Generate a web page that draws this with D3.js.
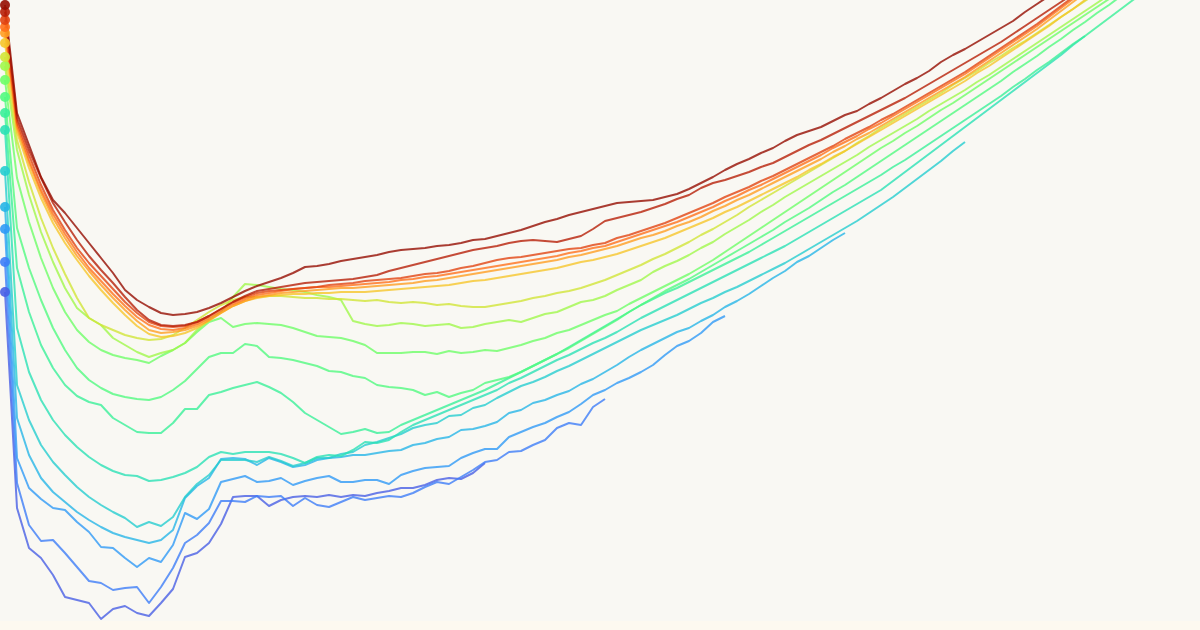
<!DOCTYPE html>
<html><head><meta charset="utf-8">
<script src="https://cdn.jsdelivr.net/npm/d3@7"></script>
<style>html,body{margin:0;padding:0;background:#fdf9f0;}svg{display:block;}</style>
</head><body>
<svg id="chart" width="1200" height="621"></svg>
<script>
// log10 death rate by single year of age, one line per birth cohort
const ages = d3.range(0, 96);
const cohorts = [1820,1830,1840,1850,1860,1870,1880,1890,1900,1910,1920,1930,1940,1950,1960,1970,1980];
const c1820 = [-0.875,-1.415,-1.575,-1.735,-1.85,-1.915,-1.99,-2.065,-2.14,-2.215,-2.3,-2.35,-2.385,-2.415,-2.425,-2.42,-2.41,-2.39,-2.365,-2.335,-2.305,-2.28,-2.26,-2.24,-2.215,-2.185,-2.18,-2.17,-2.155,-2.145,-2.135,-2.125,-2.11,-2.1,-2.095,-2.09,-2.08,-2.075,-2.065,-2.05,-2.045,-2.03,-2.015,-2.0,-1.98,-1.96,-1.945,-1.925,-1.91,-1.895,-1.88,-1.865,-1.86,-1.855,-1.85,-1.835,-1.82,-1.795,-1.765,-1.735,-1.7,-1.67,-1.645,-1.615,-1.59,-1.555,-1.525,-1.505,-1.485,-1.455,-1.425,-1.405,-1.37,-1.34,-1.305,-1.27,-1.24,-1.205,-1.16,-1.125,-1.095,-1.06,-1.025,-0.99,-0.955,-0.91,-0.87,-0.83,-0.79];
const c1830 = [-0.91,-1.44,-1.6,-1.74,-1.865,-1.96,-2.05,-2.13,-2.2,-2.265,-2.335,-2.4,-2.45,-2.475,-2.48,-2.475,-2.46,-2.43,-2.395,-2.36,-2.33,-2.305,-2.295,-2.285,-2.275,-2.265,-2.26,-2.255,-2.25,-2.245,-2.235,-2.225,-2.205,-2.19,-2.175,-2.16,-2.145,-2.13,-2.115,-2.1,-2.09,-2.08,-2.065,-2.055,-2.05,-2.055,-2.06,-2.045,-2.03,-1.995,-1.955,-1.94,-1.925,-1.91,-1.89,-1.87,-1.845,-1.825,-1.79,-1.765,-1.75,-1.73,-1.71,-1.685,-1.665,-1.635,-1.605,-1.575,-1.55,-1.52,-1.49,-1.46,-1.43,-1.4,-1.37,-1.34,-1.305,-1.27,-1.235,-1.2,-1.165,-1.13,-1.095,-1.06,-1.02,-0.98,-0.94,-0.9,-0.86,-0.82];
const c1840 = [-0.95,-1.46,-1.625,-1.775,-1.9,-2.0,-2.09,-2.165,-2.23,-2.295,-2.36,-2.415,-2.46,-2.48,-2.485,-2.48,-2.46,-2.43,-2.395,-2.36,-2.335,-2.315,-2.305,-2.3,-2.295,-2.29,-2.285,-2.275,-2.27,-2.265,-2.255,-2.25,-2.245,-2.24,-2.23,-2.22,-2.215,-2.205,-2.19,-2.18,-2.165,-2.15,-2.14,-2.135,-2.125,-2.115,-2.105,-2.095,-2.09,-2.075,-2.065,-2.04,-2.025,-2.005,-1.985,-1.965,-1.94,-1.915,-1.89,-1.865,-1.835,-1.81,-1.785,-1.755,-1.73,-1.7,-1.67,-1.64,-1.61,-1.58,-1.545,-1.515,-1.485,-1.45,-1.42,-1.385,-1.35,-1.315,-1.28,-1.245,-1.21,-1.17,-1.13,-1.09,-1.05,-1.01,-0.97,-0.925,-0.88,-0.835];
const c1850 = [-0.985,-1.475,-1.65,-1.8,-1.92,-2.02,-2.11,-2.19,-2.255,-2.32,-2.38,-2.435,-2.475,-2.495,-2.5,-2.49,-2.47,-2.44,-2.405,-2.37,-2.345,-2.325,-2.315,-2.305,-2.295,-2.29,-2.285,-2.285,-2.28,-2.275,-2.27,-2.265,-2.26,-2.25,-2.245,-2.235,-2.23,-2.22,-2.21,-2.2,-2.19,-2.18,-2.17,-2.16,-2.15,-2.14,-2.13,-2.115,-2.105,-2.09,-2.08,-2.06,-2.04,-2.02,-2.0,-1.98,-1.96,-1.935,-1.91,-1.885,-1.855,-1.83,-1.8,-1.775,-1.745,-1.715,-1.685,-1.655,-1.625,-1.59,-1.56,-1.53,-1.495,-1.465,-1.43,-1.395,-1.36,-1.325,-1.29,-1.255,-1.22,-1.18,-1.14,-1.1,-1.06,-1.02,-0.98,-0.935,-0.89,-0.845,-0.8];
const c1860 = [-1.015,-1.49,-1.665,-1.815,-1.94,-2.04,-2.13,-2.205,-2.275,-2.34,-2.4,-2.455,-2.5,-2.515,-2.51,-2.5,-2.48,-2.45,-2.415,-2.38,-2.355,-2.335,-2.325,-2.315,-2.31,-2.305,-2.3,-2.295,-2.29,-2.29,-2.285,-2.28,-2.275,-2.27,-2.265,-2.255,-2.25,-2.24,-2.23,-2.22,-2.21,-2.2,-2.19,-2.18,-2.17,-2.16,-2.15,-2.135,-2.125,-2.11,-2.095,-2.08,-2.06,-2.04,-2.025,-2.005,-1.98,-1.96,-1.935,-1.905,-1.88,-1.85,-1.825,-1.795,-1.765,-1.735,-1.705,-1.675,-1.645,-1.61,-1.58,-1.545,-1.515,-1.48,-1.445,-1.41,-1.375,-1.34,-1.305,-1.27,-1.235,-1.195,-1.155,-1.115,-1.075,-1.035,-0.995,-0.95,-0.905,-0.86,-0.815];
const c1870 = [-1.065,-1.51,-1.69,-1.84,-1.965,-2.065,-2.15,-2.23,-2.3,-2.365,-2.425,-2.48,-2.52,-2.535,-2.53,-2.515,-2.49,-2.455,-2.415,-2.38,-2.355,-2.34,-2.33,-2.325,-2.32,-2.32,-2.315,-2.315,-2.31,-2.31,-2.31,-2.305,-2.3,-2.295,-2.29,-2.285,-2.28,-2.275,-2.265,-2.255,-2.25,-2.24,-2.23,-2.22,-2.21,-2.2,-2.19,-2.175,-2.16,-2.15,-2.135,-2.12,-2.1,-2.08,-2.06,-2.04,-2.015,-1.99,-1.965,-1.94,-1.91,-1.885,-1.855,-1.825,-1.795,-1.765,-1.735,-1.7,-1.67,-1.635,-1.605,-1.57,-1.535,-1.5,-1.465,-1.43,-1.395,-1.36,-1.325,-1.29,-1.255,-1.215,-1.18,-1.14,-1.1,-1.06,-1.02,-0.98,-0.935,-0.895,-0.85,-0.805];
const c1880 = [-1.135,-1.55,-1.76,-1.94,-2.09,-2.22,-2.34,-2.44,-2.475,-2.5,-2.525,-2.54,-2.55,-2.545,-2.525,-2.49,-2.45,-2.41,-2.375,-2.35,-2.335,-2.335,-2.33,-2.33,-2.335,-2.34,-2.34,-2.345,-2.345,-2.35,-2.355,-2.35,-2.36,-2.365,-2.36,-2.365,-2.375,-2.37,-2.38,-2.385,-2.385,-2.375,-2.365,-2.355,-2.34,-2.33,-2.315,-2.305,-2.29,-2.27,-2.25,-2.225,-2.2,-2.175,-2.145,-2.12,-2.09,-2.06,-2.025,-1.995,-1.96,-1.925,-1.885,-1.85,-1.815,-1.78,-1.745,-1.71,-1.675,-1.64,-1.605,-1.565,-1.53,-1.49,-1.455,-1.42,-1.385,-1.35,-1.315,-1.275,-1.24,-1.205,-1.165,-1.13,-1.09,-1.055,-1.015,-0.975,-0.935,-0.895,-0.855,-0.815];
const c1890 = [-1.18,-1.6,-1.825,-2.01,-2.16,-2.29,-2.39,-2.44,-2.475,-2.54,-2.575,-2.61,-2.635,-2.615,-2.6,-2.565,-2.5,-2.45,-2.41,-2.335,-2.27,-2.275,-2.285,-2.295,-2.3,-2.31,-2.325,-2.335,-2.35,-2.455,-2.47,-2.48,-2.475,-2.465,-2.47,-2.48,-2.475,-2.47,-2.49,-2.485,-2.47,-2.46,-2.45,-2.46,-2.44,-2.42,-2.41,-2.385,-2.36,-2.35,-2.33,-2.3,-2.275,-2.25,-2.21,-2.18,-2.155,-2.125,-2.09,-2.06,-2.02,-1.985,-1.95,-1.91,-1.875,-1.835,-1.8,-1.765,-1.73,-1.695,-1.66,-1.625,-1.585,-1.55,-1.515,-1.48,-1.445,-1.405,-1.37,-1.335,-1.3,-1.26,-1.225,-1.185,-1.145,-1.105,-1.065,-1.025,-0.985,-0.945,-0.905,-0.865,-0.825];
const c1900 = [-1.25,-1.74,-1.96,-2.14,-2.29,-2.41,-2.5,-2.56,-2.6,-2.625,-2.64,-2.65,-2.665,-2.63,-2.6,-2.565,-2.51,-2.46,-2.44,-2.485,-2.47,-2.465,-2.47,-2.475,-2.49,-2.51,-2.53,-2.535,-2.54,-2.555,-2.575,-2.615,-2.615,-2.615,-2.61,-2.61,-2.62,-2.605,-2.615,-2.61,-2.6,-2.605,-2.59,-2.575,-2.555,-2.54,-2.515,-2.5,-2.475,-2.45,-2.425,-2.405,-2.37,-2.34,-2.31,-2.28,-2.25,-2.22,-2.185,-2.15,-2.11,-2.07,-2.03,-1.99,-1.95,-1.91,-1.87,-1.83,-1.79,-1.75,-1.71,-1.67,-1.63,-1.59,-1.555,-1.515,-1.48,-1.44,-1.4,-1.365,-1.325,-1.285,-1.245,-1.205,-1.165,-1.125,-1.085,-1.045,-1.005,-0.965,-0.925,-0.885,-0.845,-0.805];
const c1910 = [-1.335,-1.99,-2.19,-2.35,-2.49,-2.6,-2.69,-2.75,-2.79,-2.82,-2.835,-2.845,-2.85,-2.835,-2.8,-2.755,-2.695,-2.635,-2.615,-2.615,-2.57,-2.58,-2.635,-2.64,-2.65,-2.665,-2.68,-2.705,-2.71,-2.73,-2.74,-2.775,-2.785,-2.79,-2.8,-2.825,-2.81,-2.835,-2.815,-2.8,-2.765,-2.75,-2.735,-2.71,-2.68,-2.65,-2.62,-2.59,-2.555,-2.52,-2.485,-2.45,-2.41,-2.375,-2.34,-2.305,-2.275,-2.245,-2.21,-2.175,-2.14,-2.105,-2.07,-2.035,-2.0,-1.96,-1.925,-1.89,-1.85,-1.81,-1.775,-1.735,-1.695,-1.655,-1.615,-1.575,-1.535,-1.495,-1.455,-1.415,-1.375,-1.335,-1.295,-1.255,-1.21,-1.17,-1.13,-1.085,-1.045,-1.0,-0.96,-0.915,-0.875,-0.83];
const c1920 = [-1.415,-2.19,-2.41,-2.575,-2.69,-2.775,-2.83,-2.86,-2.875,-2.94,-2.975,-3.01,-3.015,-3.015,-2.965,-2.895,-2.895,-2.825,-2.81,-2.79,-2.775,-2.76,-2.785,-2.815,-2.86,-2.915,-2.95,-2.985,-3.02,-3.01,-2.995,-3.015,-3.01,-2.975,-2.95,-2.925,-2.9,-2.875,-2.85,-2.825,-2.8,-2.77,-2.74,-2.71,-2.68,-2.65,-2.62,-2.585,-2.55,-2.515,-2.48,-2.445,-2.41,-2.375,-2.345,-2.315,-2.29,-2.26,-2.23,-2.2,-2.17,-2.14,-2.11,-2.075,-2.04,-2.005,-1.97,-1.935,-1.9,-1.865,-1.83,-1.795,-1.76,-1.725,-1.685,-1.65,-1.61,-1.57,-1.53,-1.49,-1.45,-1.41,-1.37,-1.33,-1.285,-1.245,-1.2,-1.16,-1.115,-1.07,-1.03,-0.985,-0.94,-0.895,-0.85,-0.805];
const c1930 = [-1.5,-2.49,-2.71,-2.85,-2.95,-3.025,-3.085,-3.135,-3.175,-3.205,-3.225,-3.23,-3.255,-3.25,-3.235,-3.215,-3.185,-3.135,-3.11,-3.12,-3.11,-3.11,-3.11,-3.12,-3.14,-3.165,-3.135,-3.125,-3.13,-3.1,-3.06,-3.065,-3.05,-3.01,-2.975,-2.95,-2.925,-2.9,-2.875,-2.85,-2.825,-2.8,-2.765,-2.74,-2.71,-2.68,-2.65,-2.625,-2.595,-2.565,-2.54,-2.51,-2.475,-2.44,-2.41,-2.38,-2.35,-2.32,-2.29,-2.26,-2.23,-2.2,-2.17,-2.14,-2.11,-2.08,-2.045,-2.01,-1.975,-1.94,-1.905,-1.87,-1.835,-1.8,-1.755,-1.71,-1.665,-1.62,-1.575,-1.53,-1.485,-1.44,-1.395,-1.35,-1.305,-1.26,-1.215,-1.17,-1.125,-1.075,-1.03];
const c1940 = [-1.705,-2.775,-2.95,-3.075,-3.16,-3.225,-3.285,-3.335,-3.375,-3.41,-3.44,-3.485,-3.46,-3.48,-3.435,-3.335,-3.27,-3.225,-3.15,-3.15,-3.15,-3.16,-3.135,-3.155,-3.18,-3.165,-3.14,-3.14,-3.12,-3.11,-3.075,-3.06,-3.04,-3.02,-2.99,-2.975,-2.965,-2.93,-2.925,-2.89,-2.875,-2.84,-2.81,-2.78,-2.76,-2.735,-2.705,-2.68,-2.65,-2.62,-2.59,-2.56,-2.53,-2.5,-2.475,-2.45,-2.425,-2.395,-2.365,-2.34,-2.31,-2.285,-2.255,-2.225,-2.195,-2.165,-2.13,-2.095,-2.06,-2.025,-1.99,-1.955,-1.915,-1.875,-1.835,-1.79,-1.745,-1.7,-1.655,-1.605,-1.56];
const c1950 = [-1.885,-2.94,-3.125,-3.24,-3.31,-3.36,-3.41,-3.45,-3.485,-3.515,-3.535,-3.55,-3.565,-3.55,-3.5,-3.34,-3.28,-3.24,-3.145,-3.14,-3.145,-3.175,-3.14,-3.16,-3.185,-3.175,-3.15,-3.14,-3.135,-3.125,-3.125,-3.115,-3.105,-3.1,-3.075,-3.065,-3.045,-3.035,-3.0,-2.995,-2.98,-2.96,-2.915,-2.9,-2.865,-2.85,-2.825,-2.805,-2.77,-2.745,-2.71,-2.675,-2.635,-2.6,-2.57,-2.54,-2.51,-2.49,-2.455,-2.425,-2.385,-2.355,-2.32,-2.28,-2.24,-2.205,-2.16,-2.13,-2.09,-2.05,-2.015];
const c1960 = [-1.995,-3.14,-3.29,-3.345,-3.39,-3.4,-3.46,-3.51,-3.585,-3.59,-3.64,-3.685,-3.64,-3.66,-3.575,-3.415,-3.445,-3.395,-3.26,-3.245,-3.23,-3.26,-3.255,-3.24,-3.275,-3.255,-3.24,-3.23,-3.26,-3.26,-3.25,-3.25,-3.27,-3.225,-3.205,-3.19,-3.185,-3.18,-3.14,-3.115,-3.095,-3.095,-3.035,-3.01,-2.985,-2.965,-2.935,-2.91,-2.87,-2.825,-2.8,-2.765,-2.74,-2.71,-2.675,-2.625,-2.58,-2.555,-2.515,-2.46,-2.43];
const c1970 = [-2.16,-3.265,-3.475,-3.555,-3.55,-3.615,-3.685,-3.755,-3.765,-3.8,-3.79,-3.785,-3.865,-3.785,-3.69,-3.565,-3.525,-3.465,-3.355,-3.355,-3.36,-3.33,-3.335,-3.33,-3.38,-3.34,-3.375,-3.385,-3.36,-3.335,-3.35,-3.34,-3.33,-3.335,-3.315,-3.285,-3.26,-3.27,-3.235,-3.2,-3.16,-3.15,-3.11,-3.105,-3.075,-3.05,-2.99,-2.965,-2.975,-2.885,-2.845];
const c1980 = [-2.31,-3.39,-3.59,-3.64,-3.725,-3.835,-3.85,-3.865,-3.945,-3.895,-3.88,-3.915,-3.93,-3.865,-3.795,-3.635,-3.615,-3.565,-3.47,-3.335,-3.33,-3.33,-3.38,-3.35,-3.335,-3.33,-3.335,-3.325,-3.335,-3.325,-3.33,-3.315,-3.305,-3.29,-3.29,-3.275,-3.25,-3.24,-3.245,-3.215,-3.165];
const seriesValues = [c1820,c1830,c1840,c1850,c1860,c1870,c1880,c1890,c1900,c1910,c1920,c1930,c1940,c1950,c1960,c1970,c1980];

const W = 1200, H = 621;
const svg = d3.select('#chart');
svg.append('rect').attr('width', W).attr('height', H).attr('fill', '#f9f8f3');
const x = d3.scaleLinear().domain([0, 100]).range([5, 1205]);
const y = d3.scaleLinear().domain([-0.85, -4.0]).range([0, 630]);
const t = d3.scaleLinear().domain([1820, 1900, 1980]).range([0.97, 0.45, 0.11]);
const color = c => d3.interpolateTurbo(t(c));

const series = cohorts.map((c, i) => ({
  cohort: c,
  points: seriesValues[i].map((v, j) => ({age: ages[j], v}))
}));
const line = d3.line().x(d => x(d.age)).y(d => y(d.v));
const g = svg.append('g');
g.selectAll('path').data(series.slice().reverse()).join('path')
  .attr('d', d => line(d.points))
  .attr('fill', 'none')
  .attr('stroke', d => color(d.cohort))
  .attr('stroke-width', 2)
  .attr('stroke-opacity', 0.8)
  .attr('stroke-linejoin', 'round');
g.selectAll('circle').data(series.slice().reverse()).join('circle')
  .attr('cx', d => x(d.points[0].age))
  .attr('cy', d => y(d.points[0].v))
  .attr('r', 5)
  .attr('fill', d => color(d.cohort))
  .attr('fill-opacity', 0.9);
</script>
</body></html>
